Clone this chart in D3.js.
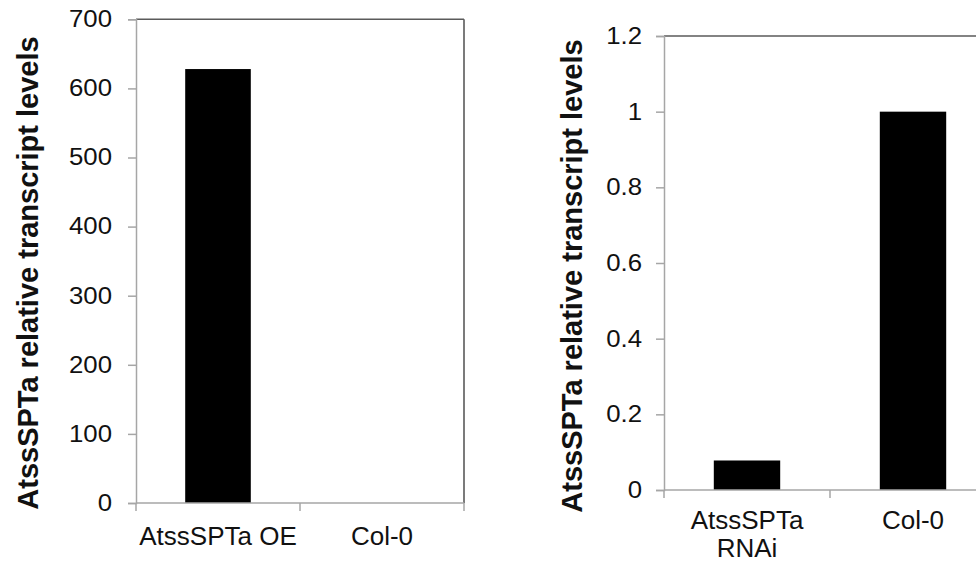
<!DOCTYPE html>
<html>
<head>
<meta charset="utf-8">
<script src="https://cdn.jsdelivr.net/npm/d3@7"></script>
<style>
  html, body { margin: 0; padding: 0; background: #fff; }
  svg { display: block; }
  text { font-family: "Liberation Sans", Arial, sans-serif; fill: #111; }
</style>
</head>
<body>
<svg id="chart" width="976" height="565"></svg>
<script>
// ---- data ----
const yTitle = "AtssSPTa relative transcript levels";

const leftCategories = ["AtssSPTa OE", "Col-0"];
const leftValues = [628, 0];
const leftTicks = [0, 100, 200, 300, 400, 500, 600, 700];
const leftMax = 700;

const rightCategories = ["AtssSPTa RNAi", "Col-0"];
const rightLabelLines = [["AtssSPTa", "RNAi"], ["Col-0"]];
const rightValues = [0.078, 1.0];
const rightTicks = [0, 0.2, 0.4, 0.6, 0.8, 1, 1.2];
const rightMax = 1.2;

// ---- layout ----
const svg = d3.select("#chart");
const AXIS = "#a6a6a6";
const BORDER = "#5a5a5a";

function stretch(sel, k) {
  sel.each(function () {
    const w = this.getComputedTextLength();
    if (w > 0) {
      d3.select(this).attr("textLength", w * k).attr("lengthAdjust", "spacingAndGlyphs");
    }
  });
}

function drawChart(cfg) {
  const g = svg.append("g");
  const y = d3.scaleLinear().domain([0, cfg.max]).range([cfg.y0, cfg.y1]);
  const x = d3.scaleBand().domain(cfg.categories)
    .range([cfg.x0, cfg.x1]).paddingInner(0.6).paddingOuter(0.3);
  const step = x.step();

  // box top / right border
  g.append("line").attr("x1", cfg.x0).attr("x2", cfg.x1)
    .attr("y1", y(cfg.max)).attr("y2", y(cfg.max))
    .attr("stroke", BORDER).attr("stroke-width", 1.6);
  g.append("line").attr("x1", cfg.x1).attr("x2", cfg.x1)
    .attr("y1", y(cfg.max)).attr("y2", y(0))
    .attr("stroke", BORDER).attr("stroke-width", 1.6);

  // bars
  g.selectAll("rect.bar").data(cfg.values).join("rect")
    .attr("class", "bar")
    .attr("x", (d, i) => x(cfg.categories[i]))
    .attr("width", x.bandwidth())
    .attr("y", d => y(d))
    .attr("height", d => y(0) - y(d))
    .attr("fill", "#000");

  // y axis
  const yAxis = g.append("g").attr("transform", `translate(${cfg.x0},0)`)
    .call(d3.axisLeft(y).tickValues(cfg.ticks).tickSize(8).tickPadding(cfg.tickPad)
      .tickFormat(d => String(d)));
  yAxis.select(".domain").attr("stroke", AXIS).attr("stroke-width", 1.5);
  yAxis.selectAll(".tick line").attr("stroke", AXIS).attr("stroke-width", 1.5);
  yAxis.selectAll(".tick text").attr("font-size", 23).attr("fill", "#111")
    .attr("font-family", '"Liberation Sans", Arial, sans-serif')
    .call(stretch, 1.12);

  // x axis line
  g.append("line").attr("x1", cfg.x0).attr("x2", cfg.x1)
    .attr("y1", y(0)).attr("y2", y(0))
    .attr("stroke", AXIS).attr("stroke-width", 1.5);
  // category boundary ticks
  const bounds = d3.range(cfg.categories.length + 1).map(i => cfg.x0 + i * step);
  g.selectAll("line.ctick").data(bounds).join("line")
    .attr("class", "ctick")
    .attr("x1", d => d).attr("x2", d => d)
    .attr("y1", y(0)).attr("y2", y(0) + 8)
    .attr("stroke", AXIS).attr("stroke-width", 1.5);

  // category labels
  cfg.labelLines.forEach((lines, i) => {
    const cx = x(cfg.categories[i]) + x.bandwidth() / 2;
    const t = g.append("text").attr("text-anchor", "middle")
      .attr("font-size", 26)
      .attr("x", cx).attr("y", y(0) + cfg.labelOffset);
    lines.forEach((ln, j) => {
      t.append("tspan").attr("x", cx).attr("dy", j === 0 ? 0 : 28).text(ln);
    });
  });

  // y title
  g.append("text")
    .attr("transform", `translate(${cfg.titleX},${cfg.titleY}) rotate(-90)`)
    .attr("text-anchor", "middle")
    .attr("font-size", 29).attr("font-weight", "bold")
    .text(yTitle);
}

drawChart({
  categories: leftCategories, labelLines: leftCategories.map(c => [c]),
  values: leftValues, ticks: leftTicks, max: leftMax,
  x0: 136, x1: 464, y0: 503, y1: 19.3, tickPad: 16,
  labelOffset: 42, titleX: 38, titleY: 273
});

drawChart({
  categories: rightCategories, labelLines: rightLabelLines,
  values: rightValues, ticks: rightTicks, max: rightMax,
  x0: 664, x1: 996, y0: 490, y1: 36, tickPad: 14,
  labelOffset: 39, titleX: 582, titleY: 276
});
</script>
</body>
</html>
